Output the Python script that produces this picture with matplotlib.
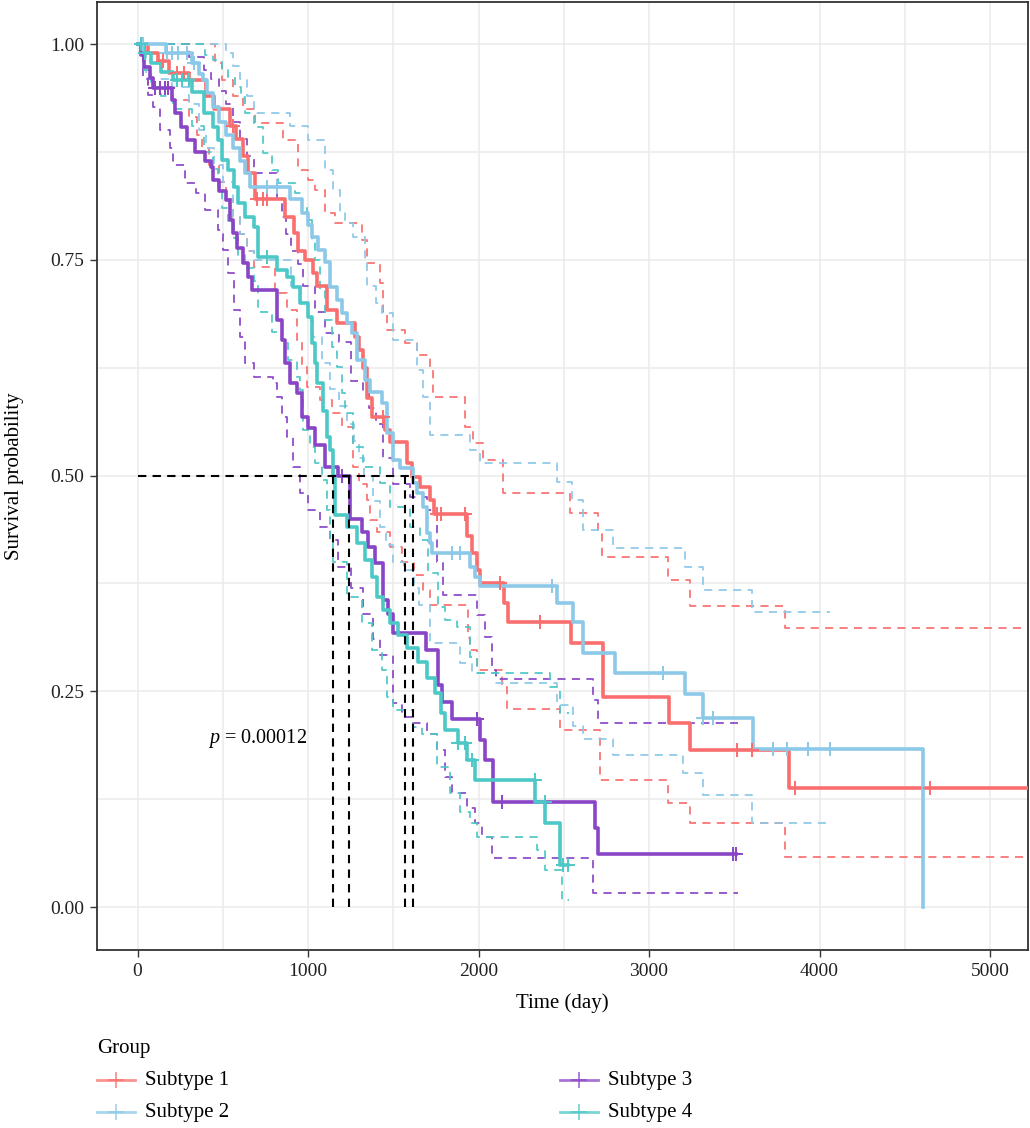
import numpy as np
import matplotlib
matplotlib.use("Agg")
import matplotlib.pyplot as plt
from matplotlib.lines import Line2D

plt.rcParams['font.family'] = ['Liberation Serif', 'DejaVu Serif']
plt.rcParams['mathtext.fontset'] = 'custom'
plt.rcParams['mathtext.it'] = 'Liberation Serif:italic'
plt.rcParams['mathtext.rm'] = 'Liberation Serif'

groups = ["Subtype 1", "Subtype 2", "Subtype 3", "Subtype 4"]
colors = ["#F96E6E", "#8CC8E8", "#8A45C6", "#4CC8C6"]

# ---- Subtype 1 ----
s1_t = [0, 60, 120, 182, 300, 400, 450, 540, 580, 620, 650, 691, 867, 920, 943, 980, 1030, 1055, 1113, 1170,
        1277, 1300, 1325, 1347, 1377, 1453, 1480, 1582, 1611, 1658, 1717, 1740, 1934, 1960, 1990, 2010, 2150,
        2175, 2540, 2730, 3120, 3240, 3820]
s1_s = [1.0, 0.99, 0.98, 0.967, 0.958, 0.94, 0.925, 0.905, 0.89, 0.87, 0.85, 0.821, 0.80, 0.781, 0.76, 0.75,
        0.735, 0.72, 0.692, 0.677, 0.66, 0.645, 0.625, 0.59, 0.568, 0.553, 0.539, 0.514, 0.498, 0.487, 0.472,
        0.455, 0.43, 0.41, 0.39, 0.375, 0.352, 0.33, 0.306, 0.243, 0.213, 0.182, 0.138]
s1_end = 5250
s1_up_t = [0, 457, 498, 560, 620, 691, 855, 943, 1002, 1043, 1102, 1160, 1318, 1347, 1424, 1440, 1465, 1570,
           1640, 1717, 1730, 1922, 1969, 2028, 2145, 2537, 2700, 2725, 3112, 3240, 3797]
s1_up_s = [1.0, 0.978, 0.958, 0.94, 0.925, 0.908, 0.889, 0.854, 0.842, 0.831, 0.804, 0.793, 0.773, 0.746,
           0.723, 0.69, 0.669, 0.653, 0.64, 0.622, 0.591, 0.556, 0.538, 0.518, 0.48, 0.457, 0.437, 0.406,
           0.379, 0.349, 0.323]
s1_lo_t = [0, 30, 60, 200, 300, 350, 380, 420, 480, 520, 560, 600, 640, 680, 809, 879, 938, 967, 996, 1072,
           1142, 1201, 1266, 1300, 1347, 1365, 1406, 1483, 1550, 1620, 1676, 1717, 1940, 1951, 1992, 2140,
           2168, 2479, 2713, 3112, 3240, 3797]
s1_lo_s = [1.0, 0.97, 0.95, 0.935, 0.915, 0.895, 0.88, 0.86, 0.84, 0.82, 0.80, 0.78, 0.76, 0.742, 0.711,
           0.692, 0.657, 0.626, 0.603, 0.587, 0.572, 0.556, 0.51, 0.49, 0.472, 0.448, 0.435, 0.417, 0.40,
           0.385, 0.367, 0.35, 0.312, 0.298, 0.275, 0.255, 0.23, 0.205, 0.147, 0.12, 0.097, 0.058]
s1_cens = [150, 230, 270, 300, 560, 700, 735, 760, 1440, 1758, 1781, 1922, 2127, 2362, 3516, 3604, 3856, 4647]

# ---- Subtype 2 ----
s2_t = [0, 164, 322, 360, 381, 410, 445, 480, 520, 560, 600, 630, 660, 897, 967, 1000, 1025, 1061, 1102,
        1131, 1172, 1201, 1230, 1260, 1290, 1336, 1365, 1436, 1465, 1500, 1541, 1617, 1640, 1676, 1700, 1717,
        1729, 1951, 1980, 2010, 2461, 2555, 2614, 2800, 3211, 3317, 3610, 4606]
s2_s = [1.0, 0.99, 0.978, 0.965, 0.958, 0.943, 0.927, 0.91, 0.895, 0.88, 0.865, 0.85, 0.834, 0.821, 0.804,
        0.79, 0.776, 0.761, 0.747, 0.718, 0.703, 0.688, 0.677, 0.665, 0.634, 0.611, 0.597, 0.584, 0.549,
        0.518, 0.509, 0.491, 0.48, 0.463, 0.433, 0.422, 0.41, 0.394, 0.382, 0.372, 0.352, 0.33, 0.294,
        0.271, 0.247, 0.219, 0.183, 0.0]
s2_end = 4606
s2_up_t = [0, 520, 560, 600, 640, 680, 897, 1000, 1102, 1148, 1190, 1219, 1266, 1336, 1347, 1400, 1436,
           1500, 1641, 1676, 1717, 1951, 2010, 2461, 2549, 2614, 2789, 3211, 3317, 3604]
s2_up_s = [1.0, 0.99, 0.975, 0.96, 0.94, 0.92, 0.905, 0.889, 0.854, 0.831, 0.804, 0.793, 0.776, 0.75,
           0.72, 0.70, 0.688, 0.657, 0.622, 0.591, 0.547, 0.53, 0.514, 0.493, 0.472, 0.437, 0.416, 0.394,
           0.367, 0.342]
s2_lo_t = [0, 50, 200, 300, 360, 400, 450, 500, 560, 600, 640, 680, 900, 960, 1000, 1030, 1080, 1130, 1180,
           1230, 1270, 1300, 1330, 1380, 1420, 1460, 1500, 1560, 1620, 1650, 1717, 1893, 1963, 2100, 2461,
           2555, 2614, 2789, 3200, 3317, 3604]
s2_lo_s = [1.0, 0.96, 0.95, 0.93, 0.90, 0.88, 0.86, 0.84, 0.80, 0.78, 0.76, 0.75, 0.72, 0.70, 0.68, 0.66,
           0.63, 0.60, 0.58, 0.56, 0.54, 0.52, 0.50, 0.47, 0.44, 0.42, 0.40, 0.39, 0.37, 0.35, 0.306, 0.283,
           0.271, 0.26, 0.234, 0.21, 0.195, 0.176, 0.155, 0.13, 0.097]
s2_ci_end = 4060
s2_cens = [30, 170, 200, 240, 290, 330, 760, 820, 1846, 1893, 2432, 3082, 3317, 3375, 3727, 3809, 3933, 4061]

# ---- Subtype 3 ----
s3_t = [0, 20, 40, 70, 88, 200, 220, 252, 290, 334, 393, 428, 445, 480, 516, 545, 557, 586, 621, 645, 674,
        820, 850, 867, 897, 938, 967, 1000, 1043, 1100, 1178, 1248, 1318, 1354, 1395, 1442, 1470, 1500,
        1690, 1764, 1787, 1846, 2010, 2039, 2086, 2684, 2702]
s3_s = [1.0, 0.987, 0.973, 0.961, 0.949, 0.935, 0.92, 0.904, 0.889, 0.875, 0.865, 0.857, 0.842, 0.83,
        0.819, 0.796, 0.781, 0.764, 0.746, 0.730, 0.715, 0.68, 0.657, 0.63, 0.607, 0.596, 0.568, 0.555,
        0.535, 0.51, 0.50, 0.45, 0.434, 0.417, 0.399, 0.356, 0.34, 0.317, 0.298, 0.257, 0.238, 0.218,
        0.194, 0.17, 0.122, 0.092, 0.061]
s3_end = 3510
s3_up_t = [0, 300, 390, 430, 480, 520, 560, 600, 640, 680, 820, 850, 870, 900, 940, 970, 1040, 1100, 1180,
           1250, 1320, 1360, 1400, 1440, 1500, 1600, 1700, 1758, 1790, 1992, 2039, 2080, 2100, 2672, 2702]
s3_up_s = [1.0, 0.985, 0.97, 0.96, 0.945, 0.93, 0.91, 0.89, 0.87, 0.85, 0.82, 0.80, 0.78, 0.76, 0.745,
           0.72, 0.69, 0.665, 0.655, 0.61, 0.595, 0.578, 0.56, 0.52, 0.49, 0.475, 0.46, 0.40, 0.361, 0.338,
           0.313, 0.275, 0.264, 0.24, 0.213]
s3_lo_t = [0, 30, 59, 88, 129, 188, 205, 281, 340, 398, 469, 504, 533, 563, 600, 633, 680, 797, 820, 850,
           879, 914, 955, 1002, 1072, 1131, 1178, 1250, 1324, 1380, 1424, 1500, 1553, 1617, 1700, 1758, 1805,
           1846, 1934, 1980, 2022, 2080, 2672]
s3_lo_s = [1.0, 0.96, 0.941, 0.927, 0.90, 0.88, 0.86, 0.839, 0.827, 0.808, 0.785, 0.761, 0.735, 0.692,
           0.66, 0.63, 0.614, 0.607, 0.591, 0.568, 0.545, 0.51, 0.48, 0.46, 0.44, 0.425, 0.394, 0.37, 0.34,
           0.31, 0.292, 0.236, 0.22, 0.213, 0.20, 0.182, 0.151, 0.132, 0.115, 0.097, 0.081, 0.057, 0.016]
s3_ci_end = 3520
s3_cens = [100, 130, 160, 180, 1200, 1990, 2139, 3493, 3510]

# ---- Subtype 4 ----
s4_t = [0, 40, 76, 140, 205, 322, 387, 440, 469, 498, 533, 563, 592, 633, 680, 709, 820, 879, 914, 955,
        1002, 1025, 1043, 1055, 1090, 1113, 1131, 1149, 1160, 1230, 1290, 1336, 1377, 1406, 1442, 1483,
        1530, 1582, 1647, 1700, 1746, 1780, 1805, 1881, 1934, 1980, 2333, 2391, 2479]
s4_s = [1.0, 0.99, 0.978, 0.968, 0.958, 0.944, 0.92, 0.904, 0.889, 0.866, 0.854, 0.834, 0.816, 0.80,
        0.788, 0.753, 0.738, 0.73, 0.718, 0.70, 0.684, 0.653, 0.63, 0.607, 0.575, 0.545, 0.53, 0.50, 0.454,
        0.44, 0.422, 0.402, 0.382, 0.359, 0.344, 0.329, 0.315, 0.30, 0.284, 0.265, 0.248, 0.225, 0.205,
        0.19, 0.17, 0.147, 0.122, 0.097, 0.049]
s4_end = 2526
s4_up_t = [0, 398, 440, 498, 533, 574, 604, 633, 680, 733, 791, 826, 926, 967, 996, 1025, 1043, 1072, 1102,
           1142, 1172, 1201, 1219, 1266, 1325, 1424, 1483, 1600, 1658, 1705, 1764, 1805, 1875, 1951, 1992,
           2420, 2479]
s4_up_s = [1.0, 0.987, 0.981, 0.97, 0.962, 0.95, 0.939, 0.92, 0.904, 0.874, 0.854, 0.839, 0.827, 0.811,
           0.796, 0.773, 0.75, 0.715, 0.68, 0.649, 0.626, 0.596, 0.572, 0.533, 0.51, 0.491, 0.464, 0.44,
           0.425, 0.387, 0.348, 0.333, 0.324, 0.29, 0.271, 0.255, 0.225]
s4_lo_t = [0, 40, 80, 140, 205, 322, 387, 440, 469, 498, 533, 563, 592, 633, 680, 709, 791, 850, 885, 938,
           955, 973, 1014, 1043, 1084, 1113, 1130, 1149, 1230, 1318, 1377, 1436, 1465, 1500, 1617, 1670, 1758,
           1834, 1893, 1951, 1992, 2344, 2391, 2490]
s4_lo_s = [1.0, 0.97, 0.95, 0.94, 0.925, 0.905, 0.875, 0.855, 0.835, 0.81, 0.795, 0.775, 0.755, 0.74,
           0.725, 0.69, 0.666, 0.653, 0.634, 0.614, 0.599, 0.553, 0.533, 0.514, 0.495, 0.46, 0.425, 0.40,
           0.359, 0.329, 0.298, 0.275, 0.243, 0.228, 0.209, 0.20, 0.162, 0.132, 0.11, 0.097, 0.081, 0.066,
           0.043, 0.008]
s4_ci_end = 2530
s4_cens = [20, 45, 230, 260, 300, 760, 1881, 1920, 1963, 2330, 2388, 2495, 2526]

medians = [1617, 1570, 1242, 1149]
pval_text = r"$\it{p}$ = 0.00012"
x_ticks = [0, 1000, 2000, 3000, 4000, 5000]
y_ticks = [0.0, 0.25, 0.5, 0.75, 1.0]
y_ticklabels = ["0.00", "0.25", "0.50", "0.75", "1.00"]

curves = [
    (s1_t, s1_s, s1_end, s1_up_t, s1_up_s, s1_lo_t, s1_lo_s, 5250, s1_cens),
    (s2_t, s2_s, s2_end, s2_up_t, s2_up_s, s2_lo_t, s2_lo_s, s2_ci_end, s2_cens),
    (s3_t, s3_s, s3_end, s3_up_t, s3_up_s, s3_lo_t, s3_lo_s, s3_ci_end, s3_cens),
    (s4_t, s4_s, s4_end, s4_up_t, s4_up_s, s4_lo_t, s4_lo_s, s4_ci_end, s4_cens),
]


def ext(t, s, end):
    t = list(t)
    s = list(s)
    if end > t[-1]:
        t = t + [end]
        s = s + [s[-1]]
    return t, s


def surv_at(t, s, x):
    i = np.searchsorted(np.asarray(t), x, side='right') - 1
    return np.asarray(s)[i]


W, H = 1030, 1128
fig = plt.figure(figsize=(W / 100, H / 100), dpi=100)
ax = fig.add_axes([97 / W, 1 - 950 / H, (1028 - 97) / W, (950 - 2) / H])

ax.set_xlim(-238, 5223)
ax.set_ylim(-0.0498, 1.0487)

# grid
for xv in np.arange(0, 5001, 500):
    ax.axvline(xv, color="#EBEBEB", lw=1.1, zorder=0)
for yv in np.arange(0, 1.01, 0.125):
    ax.axhline(yv, color="#EBEBEB", lw=1.1, zorder=0)

# confidence intervals
for (t, s, end, ut, us, lt, ls, cend, cens), col in zip(curves, colors):
    for ct, cs in ((ut, us), (lt, ls)):
        xx, yy = ext(ct, cs, cend)
        ax.step(xx, yy, where='post', color=col, lw=1.3, ls=(0, (4.5, 3.5)), alpha=0.95, zorder=2)

# median lines
mmax = max(medians)
ax.plot([0, mmax], [0.5, 0.5], color="black", lw=1.5, ls=(0, (4, 3)), zorder=5)
for m in medians:
    ax.plot([m, m], [0, 0.5], color="black", lw=1.5, ls=(0, (4, 3)), zorder=5)

# survival curves
for (t, s, end, ut, us, lt, ls, cend, cens), col in zip(curves, colors):
    xx, yy = ext(t, s, end)
    ax.step(xx, yy, where='post', color=col, lw=2.6, zorder=3)
    cy = [surv_at(t, s, c) for c in cens]
    ax.plot(cens, cy, ls='none', marker='+', ms=10, mew=1.4, color=col, zorder=4)

ax.text(415, 0.195, pval_text, fontsize=14.5, ha='left', va='center')

ax.set_xticks(x_ticks)
ax.set_xticklabels([str(v) for v in x_ticks], fontsize=14, color="#222222")
ax.set_yticks(y_ticks)
ax.set_yticklabels(y_ticklabels, fontsize=14, color="#222222")
ax.tick_params(axis='both', length=5, width=1, color="#333333", pad=4)
for sp in ax.spines.values():
    sp.set_color("#333333")
    sp.set_linewidth(1.3)

fig.text(562 / W, 1 - 1003 / H, "Time (day)", fontsize=15, ha='center', va='center')
fig.text(15 / W, 1 - 476 / H, "Survival probability", fontsize=15, ha='center', va='center',
         rotation=90)

# legend
fig.text(97 / W, 1 - 1048 / H, "Group", fontsize=15, ha='left', va='center')
legend_pos = [(97, 1080), (97, 1112), (560, 1080), (560, 1112)]
for (lx, ly), name, col in zip(legend_pos, groups, colors):
    yf = 1 - ly / H
    fig.add_artist(Line2D([lx / W, (lx + 38) / W], [yf, yf], color=col, lw=2.0, alpha=0.75,
                          transform=fig.transFigure))
    fig.add_artist(Line2D([(lx + 19) / W], [yf], marker='+', ms=11, mew=1.3, color=col, alpha=0.75,
                          ls='none', transform=fig.transFigure))
    fig.text((lx + 48) / W, yf, name, fontsize=15, ha='left', va='center')

fig.savefig("out.png", dpi=100)
